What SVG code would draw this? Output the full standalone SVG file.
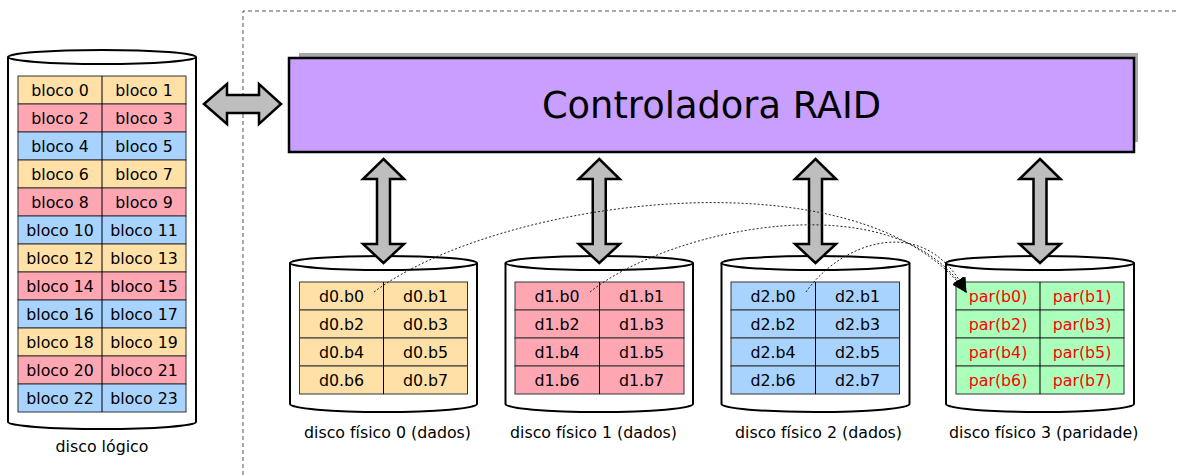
<svg xmlns="http://www.w3.org/2000/svg" width="1177" height="475" viewBox="0 0 1177 475">
<style>
text{font-family:"DejaVu Sans","Liberation Sans",sans-serif;font-size:15.8px;fill:#000}
.cell{stroke:#333;stroke-width:1}
.y{fill:#ffe0a6}.p{fill:#ffa6b3}.b{fill:#a8d3ff}.g{fill:#aaffba}
.div{stroke:#000;stroke-width:1}
.cyl{fill:#fff;stroke:#000;stroke-width:2}
.arr{fill:#bebebe;stroke:#000;stroke-width:2.5;stroke-linejoin:miter}
.c{text-anchor:middle}
.red{fill:#f00}
.dot{fill:none;stroke:#222;stroke-width:1;stroke-dasharray:2,2}
</style>
<defs>
<marker id="ah" markerUnits="userSpaceOnUse" markerWidth="18" markerHeight="14" refX="14" refY="6.5" orient="auto">
<path d="M0,0 L15,6.5 L0,13 Z" fill="#000"/>
</marker>
</defs>
<path d="M243,475 L243,11 L1177,11" fill="none" stroke="#555" stroke-width="1" stroke-dasharray="4,3"/>

<g id="controller">
<rect x="299" y="53" width="839" height="89" fill="#a8a8a8"/>
<rect x="289" y="58" width="845" height="94" fill="#c89fff" stroke="#000" stroke-width="2.5"/>
<text x="711.5" y="118" class="c" style="font-size:36.8px">Controladora RAID</text>
</g>

<g id="disco-logico">
<path class="cyl" d="M8,57 L8,422 A94,7 0 0 0 196,422 L196,57"/>
<ellipse class="cyl" cx="102" cy="57" rx="94" ry="7"/>
<g>
<rect class="cell y" x="18" y="76" width="168" height="28"/>
<rect class="cell p" x="18" y="104" width="168" height="28"/>
<rect class="cell b" x="18" y="132" width="168" height="28"/>
<rect class="cell y" x="18" y="160" width="168" height="28"/>
<rect class="cell p" x="18" y="188" width="168" height="28"/>
<rect class="cell b" x="18" y="216" width="168" height="28"/>
<rect class="cell y" x="18" y="244" width="168" height="28"/>
<rect class="cell p" x="18" y="272" width="168" height="28"/>
<rect class="cell b" x="18" y="300" width="168" height="28"/>
<rect class="cell y" x="18" y="328" width="168" height="28"/>
<rect class="cell p" x="18" y="356" width="168" height="28"/>
<rect class="cell b" x="18" y="384" width="168" height="28"/>
<line class="div" x1="102" y1="76" x2="102" y2="412"/>
</g>
<g class="c">
<text x="60" y="96" class="c">bloco 0</text><text x="144" y="96" class="c">bloco 1</text>
<text x="60" y="124" class="c">bloco 2</text><text x="144" y="124" class="c">bloco 3</text>
<text x="60" y="152" class="c">bloco 4</text><text x="144" y="152" class="c">bloco 5</text>
<text x="60" y="180" class="c">bloco 6</text><text x="144" y="180" class="c">bloco 7</text>
<text x="60" y="208" class="c">bloco 8</text><text x="144" y="208" class="c">bloco 9</text>
<text x="60" y="236" class="c">bloco 10</text><text x="144" y="236" class="c">bloco 11</text>
<text x="60" y="264" class="c">bloco 12</text><text x="144" y="264" class="c">bloco 13</text>
<text x="60" y="292" class="c">bloco 14</text><text x="144" y="292" class="c">bloco 15</text>
<text x="60" y="320" class="c">bloco 16</text><text x="144" y="320" class="c">bloco 17</text>
<text x="60" y="348" class="c">bloco 18</text><text x="144" y="348" class="c">bloco 19</text>
<text x="60" y="376" class="c">bloco 20</text><text x="144" y="376" class="c">bloco 21</text>
<text x="60" y="404" class="c">bloco 22</text><text x="144" y="404" class="c">bloco 23</text>
</g>
<text x="102" y="452" class="c">disco lógico</text>
</g>

<g id="disco0">
<path class="cyl" d="M290,263 L290,404 A93.5,8 0 0 0 477,404 L477,263"/>
<ellipse class="cyl" cx="383.5" cy="263" rx="93.5" ry="7"/>
<rect class="cell y" x="299.5" y="282" width="168" height="28"/>
<rect class="cell y" x="299.5" y="310" width="168" height="28"/>
<rect class="cell y" x="299.5" y="338" width="168" height="28"/>
<rect class="cell y" x="299.5" y="366" width="168" height="28"/>
<line class="div" x1="383.5" y1="282" x2="383.5" y2="394"/>
<text x="341.5" y="302" class="c">d0.b0</text><text x="425.5" y="302" class="c">d0.b1</text>
<text x="341.5" y="330" class="c">d0.b2</text><text x="425.5" y="330" class="c">d0.b3</text>
<text x="341.5" y="358" class="c">d0.b4</text><text x="425.5" y="358" class="c">d0.b5</text>
<text x="341.5" y="386" class="c">d0.b6</text><text x="425.5" y="386" class="c">d0.b7</text>
<text x="304" y="438">disco físico 0 (dados)</text>
</g>

<g id="disco1">
<path class="cyl" d="M505.5,263 L505.5,404 A93.75,8 0 0 0 693,404 L693,263"/>
<ellipse class="cyl" cx="599.25" cy="263" rx="93.75" ry="7"/>
<rect class="cell p" x="515" y="282" width="169" height="28"/>
<rect class="cell p" x="515" y="310" width="169" height="28"/>
<rect class="cell p" x="515" y="338" width="169" height="28"/>
<rect class="cell p" x="515" y="366" width="169" height="28"/>
<line class="div" x1="599.5" y1="282" x2="599.5" y2="394"/>
<text x="557" y="302" class="c">d1.b0</text><text x="641.5" y="302" class="c">d1.b1</text>
<text x="557" y="330" class="c">d1.b2</text><text x="641.5" y="330" class="c">d1.b3</text>
<text x="557" y="358" class="c">d1.b4</text><text x="641.5" y="358" class="c">d1.b5</text>
<text x="557" y="386" class="c">d1.b6</text><text x="641.5" y="386" class="c">d1.b7</text>
<text x="510" y="438">disco físico 1 (dados)</text>
</g>

<g id="disco2">
<path class="cyl" d="M721.5,263 L721.5,404 A94,8 0 0 0 909.5,404 L909.5,263"/>
<ellipse class="cyl" cx="815.5" cy="263" rx="94" ry="7"/>
<rect class="cell b" x="731" y="282" width="168.5" height="28"/>
<rect class="cell b" x="731" y="310" width="168.5" height="28"/>
<rect class="cell b" x="731" y="338" width="168.5" height="28"/>
<rect class="cell b" x="731" y="366" width="168.5" height="28"/>
<line class="div" x1="815.5" y1="282" x2="815.5" y2="394"/>
<text x="773" y="302" class="c">d2.b0</text><text x="857.5" y="302" class="c">d2.b1</text>
<text x="773" y="330" class="c">d2.b2</text><text x="857.5" y="330" class="c">d2.b3</text>
<text x="773" y="358" class="c">d2.b4</text><text x="857.5" y="358" class="c">d2.b5</text>
<text x="773" y="386" class="c">d2.b6</text><text x="857.5" y="386" class="c">d2.b7</text>
<text x="735" y="438">disco físico 2 (dados)</text>
</g>

<g id="disco3">
<path class="cyl" d="M946,263 L946,404 A94,8 0 0 0 1134,404 L1134,263"/>
<ellipse class="cyl" cx="1040" cy="263" rx="94" ry="7"/>
<rect class="cell g" x="956" y="282" width="168" height="28"/>
<rect class="cell g" x="956" y="310" width="168" height="28"/>
<rect class="cell g" x="956" y="338" width="168" height="28"/>
<rect class="cell g" x="956" y="366" width="168" height="28"/>
<line class="div" x1="1040" y1="282" x2="1040" y2="394"/>
<text x="998" y="302" class="c red">par(b0)</text><text x="1082" y="302" class="c red">par(b1)</text>
<text x="998" y="330" class="c red">par(b2)</text><text x="1082" y="330" class="c red">par(b3)</text>
<text x="998" y="358" class="c red">par(b4)</text><text x="1082" y="358" class="c red">par(b5)</text>
<text x="998" y="386" class="c red">par(b6)</text><text x="1082" y="386" class="c red">par(b7)</text>
<text x="949" y="438">disco físico 3 (paridade)</text>
</g>

<g id="connectors">
<polygon class="arr" points="204,104 227,84 227,95 259,95 259,84 281,104 259,124 259,113 227,113 227,124"/>
<polygon class="arr" points="383.5,159 404,179 390,179 390,244 404,244 383.5,263 363,244 377,244 377,179 363,179"/>
<polygon class="arr" points="599.25,159 619.75,179 605.75,179 605.75,244 619.75,244 599.25,263 578.75,244 592.75,244 592.75,179 578.75,179"/>
<polygon class="arr" points="815.5,159 836,179 822,179 822,244 836,244 815.5,263 795,244 809,244 809,179 795,179"/>
<polygon class="arr" points="1040,159 1060.5,179 1046.5,179 1046.5,244 1060.5,244 1040,263 1019.5,244 1033.5,244 1033.5,179 1019.5,179"/>
<path class="dot" d="M374,292 C500,198 860,150 966,292" marker-end="url(#ah)"/>
<path class="dot" d="M590,292 C670,228 895,180 966,292" marker-end="url(#ah)"/>
<path class="dot" d="M806,292 C840,243 925,210 966,292" marker-end="url(#ah)"/>
</g>
</svg>
